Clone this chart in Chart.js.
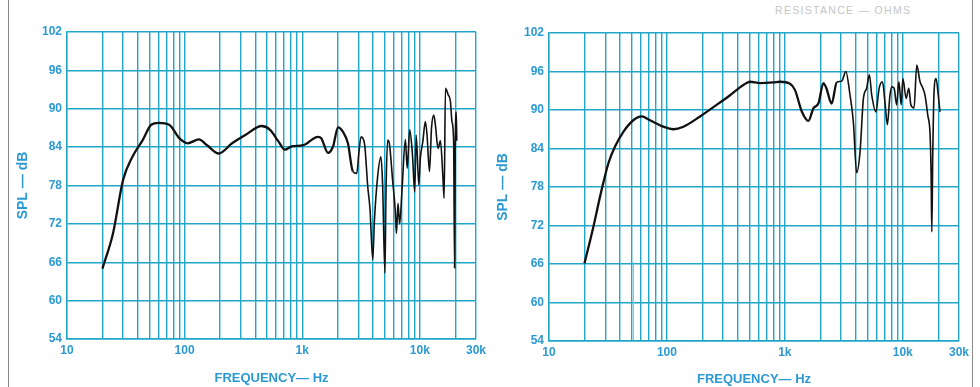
<!DOCTYPE html>
<html>
<head>
<meta charset="utf-8">
<script src="https://cdn.jsdelivr.net/npm/chart.js@4"></script>
<style>
  body { margin: 0; background: #fff; }
  #wrap { position: relative; width: 980px; height: 387px; overflow: hidden; }
  canvas { position: absolute; top: 0; }
  .edge { position: absolute; top: 0; width: 1px; height: 387px; background: #8a8a8a; }
  #scratch { position: absolute; left: 633px; top: 262px; width: 1px; height: 78px; background: #b5b5b5; }
  #resist {
    position: absolute; left: 775px; top: 4px;
    font: 10.5px "Liberation Sans", Arial, sans-serif;
    color: #c6c6c6; letter-spacing: 1.3px; white-space: nowrap;
  }
</style>
</head>
<body>
<div id="wrap">
  <div class="edge" style="left:8px"></div>
  <div class="edge" style="left:972px"></div>
  <div id="resist">RESISTANCE — OHMS</div>
  <canvas id="chartA" width="490" height="387" style="left:0"></canvas>
  <canvas id="chartB" width="490" height="387" style="left:490px"></canvas>
  <div id="scratch"></div>
</div>
<script>
// left panel
const freqA = [20, 24.6, 30, 36, 44, 52, 60, 74, 90, 106, 132, 155, 195, 253, 328, 453, 533, 627, 714, 812,
  1018, 1364, 1450, 1656, 1827, 2015, 2218, 2445, 2692, 2910, 3025, 3164, 3380, 3606, 3770, 3975, 4110,
  4375, 4665, 4820, 5045, 5150, 5320, 5500, 5860, 6170, 6320, 6520, 6730, 7060, 7530, 7800, 8200, 8650,
  9040, 9300, 9800, 10100, 10600, 11130, 11500, 12070, 12550, 13130, 13560, 14280, 14950, 15670, 16080,
  16500, 17400, 18170, 18750, 19370, 19740, 19980, 20360, 20600];
const splA = [65, 70.5, 78.9, 82.5, 85.1, 87.5, 87.8, 87.5, 85.4, 84.6, 85.2, 84.3, 83.0, 84.6, 85.9, 87.3, 86.7, 84.9, 83.6, 84.1,
  84.3, 85.6, 85.4, 83.1, 84.1, 87.1, 86.4, 84.6, 80.2, 79.9, 83.0, 85.6, 84.6, 77.8, 74.2, 66.4, 72.6,
  79.4, 82.5, 78.3, 64.3, 76.8, 85.1, 84.6, 78.9, 74.2, 70.5, 75.2, 72.0, 77.5, 85.2, 80.7, 86.7, 82.8,
  77.0, 85.9, 78.1, 82.3, 84.9, 88.0, 86.0, 80.2, 86.9, 89.0, 87.4, 83.8, 85.0, 79.6, 76.0,
  93.2, 92.2, 91.2, 88.0, 84.9, 65.1, 83.3, 89.5, 85.0];

// right panel
const freqB = [20, 23.8, 27.1, 31.9, 36.3, 42.7, 51.9, 61, 71.9, 93.3, 113.5, 138, 191, 264, 343, 445, 507, 616, 800, 910,
  1107, 1221, 1390, 1585, 1750, 1925, 2123, 2250, 2495, 2754, 3040, 3290, 3573, 3810, 4070, 4345, 4640,
  4940, 5210, 5460, 5920, 6310, 6730, 7100, 7400, 7790, 8090, 8450, 8870, 9280, 9700, 10030, 10690,
  11250, 11720, 12470, 13150, 14020, 14800, 15450, 16300, 17060, 17400, 17640, 17970, 18440, 19180, 20020, 20700];
const splB = [66.1, 71.8, 76.5, 81.7, 84.3, 86.6, 88.4, 89.0, 88.4, 87.4, 87.0, 87.4, 89.0, 90.8, 92.3, 93.9, 94.4, 94.2, 94.3, 94.4,
  94.1, 93.1, 89.8, 88.3, 90.3, 91.0, 94.2, 93.4, 91.0, 94.3, 94.5, 96.0, 92.3, 88.2, 80.2, 83.5, 91.8,
  93.4, 95.5, 92.3, 89.7, 93.4, 94.4, 90.8, 87.7, 92.3, 93.6, 93.4, 90.8, 94.4, 90.8, 94.9, 91.8,
  93.4, 90.8, 90.3, 97.0, 94.4, 93.4, 92.3, 89.2, 86.1, 79.9, 71.0, 83.0, 92.9, 94.9, 92.3, 89.7];

const gridFreqs = [10, 20, 30, 40, 50, 60, 70, 80, 90, 100, 200, 300, 400, 500, 600, 700, 800, 900,
  1000, 2000, 3000, 4000, 5000, 6000, 7000, 8000, 9000, 10000, 20000, 30000];
const freqLabels = { 10: "10", 100: "100", 1000: "1k", 10000: "10k", 30000: "30k" };
const splTicks = [54, 60, 66, 72, 78, 84, 90, 96, 102];

const gridColor = "#1fa6c9";
const textColor = "#2b9ad4";

const makeChart = (id, freqs, spl, pad, yWidth, xHeight, xTitlePad) => {
    const ctx = document.getElementById(id);
    return new Chart(ctx, {
        type: "line",
        data: {
            datasets: [
                {
                    data: freqs.map((f, i) => ({ x: f, y: spl[i] })),
                    borderColor: "#111",
                    borderWidth: 2.2,
                    pointRadius: 0,
                    cubicInterpolationMode: "monotone",
                    segment: {
                        borderWidth: (c) => (c.p0.parsed.x > 2500 ? 1.6 : 2.3),
                    },
                },
            ],
        },
        options: {
            responsive: false,
            devicePixelRatio: 1,
            animation: false,
            layout: { padding: pad },
            plugins: { legend: { display: false }, tooltip: { enabled: false } },
            scales: {
                x: {
                    type: "logarithmic",
                    min: 10,
                    max: 30000,
                    afterBuildTicks: (scale) => {
                        scale.ticks = gridFreqs.map((v) => ({ value: v }));
                    },
                    afterFit: (scale) => {
                        scale.height = xHeight;
                    },
                    grid: { color: gridColor, lineWidth: 1.4, drawTicks: false },
                    border: { color: gridColor, width: 1.4 },
                    ticks: {
                        autoSkip: false,
                        maxRotation: 0,
                        padding: 4,
                        color: textColor,
                        font: { family: "Liberation Sans", size: 12, weight: "bold" },
                        callback: (v) => freqLabels[v] || "",
                    },
                    title: {
                        display: true,
                        text: "FREQUENCY— Hz",
                        color: textColor,
                        padding: { top: 0, bottom: xTitlePad },
                        font: { family: "Liberation Sans", size: 13, weight: "bold" },
                    },
                },
                y: {
                    min: 54,
                    max: 102,
                    afterBuildTicks: (scale) => {
                        scale.ticks = splTicks.map((v) => ({ value: v }));
                    },
                    afterFit: (scale) => {
                        scale.width = yWidth;
                    },
                    grid: { color: gridColor, lineWidth: 1.4, drawTicks: false },
                    border: { color: gridColor, width: 1.4 },
                    ticks: {
                        padding: 5,
                        color: textColor,
                        font: { family: "Liberation Sans", size: 12, weight: "bold" },
                    },
                    title: {
                        display: true,
                        text: "SPL — dB",
                        color: textColor,
                        padding: { top: 3, bottom: 0 },
                        font: { family: "Liberation Sans", size: 14, weight: "bold" },
                    },
                },
            },
        },
    });
};

makeChart("chartA", freqA, splA, { left: 12, top: 32, right: 11, bottom: 0 }, 55, 48, 1);
makeChart("chartB", freqB, splB, { left: 2, top: 33, right: 21, bottom: 0 }, 57, 46, 0);
</script>
</body>
</html>
